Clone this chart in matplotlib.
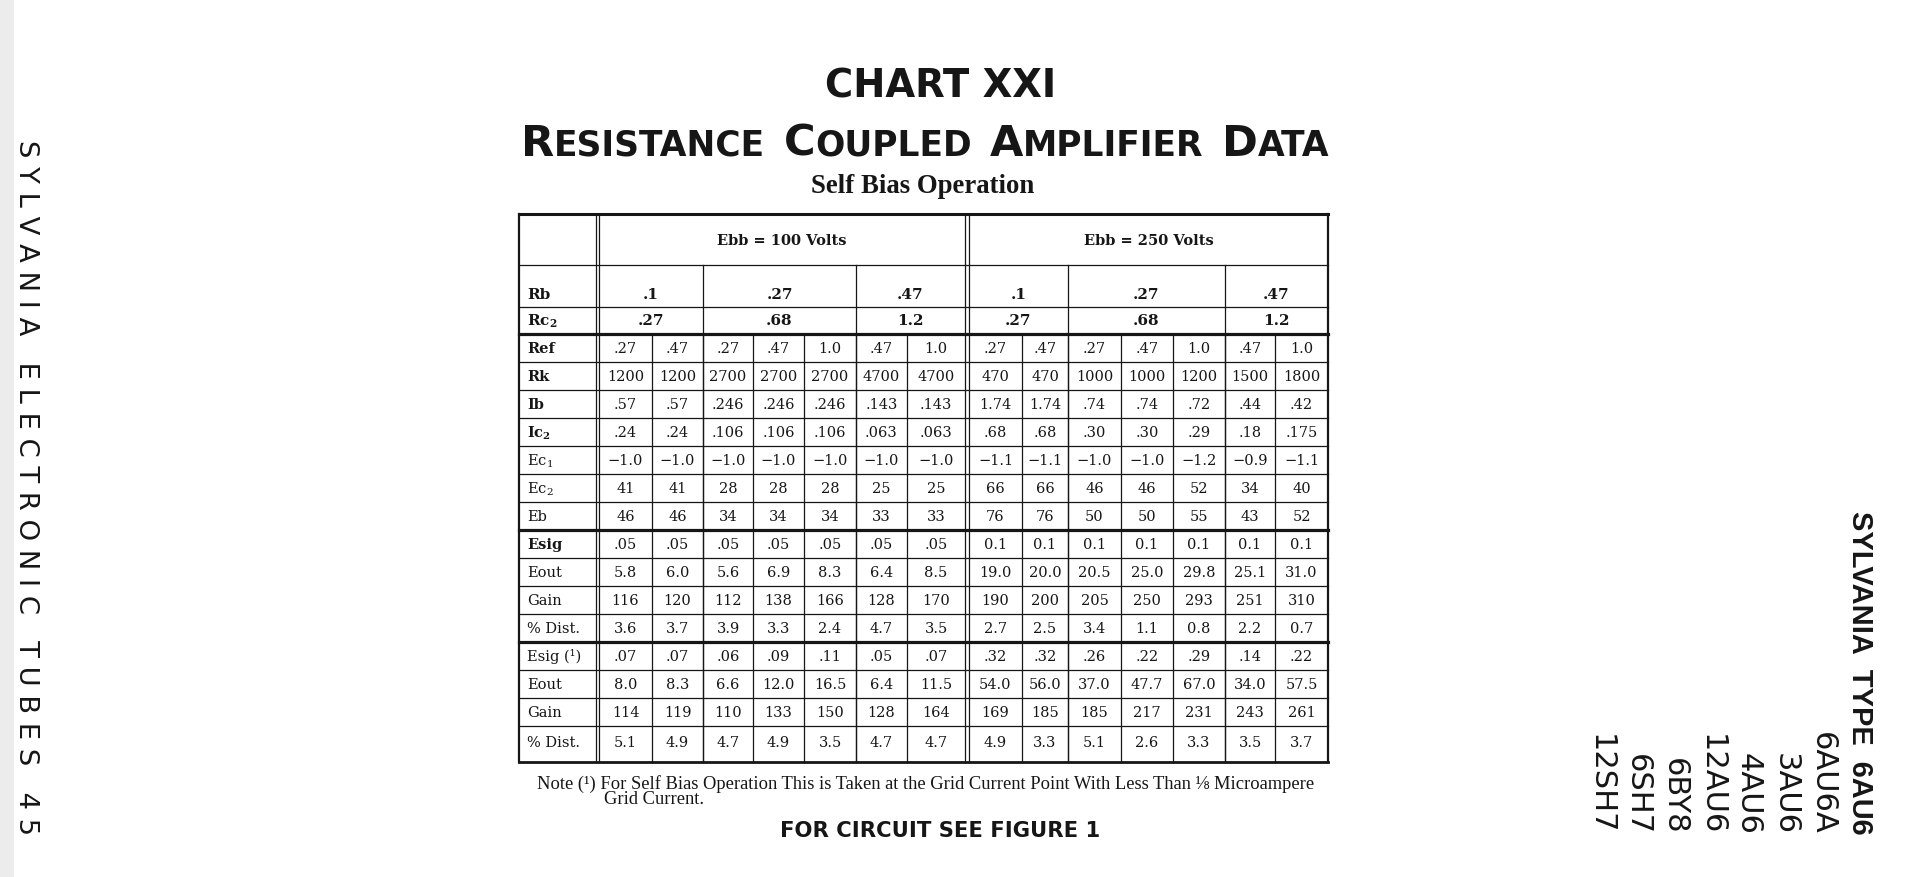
import matplotlib
matplotlib.use('Agg')
import matplotlib.pyplot as plt
from matplotlib import font_manager

W, H = 1913, 878

# ---- table contents ----
ebb_titles = ['Ebb = 100 Volts', 'Ebb = 250 Volts']
rb_values = ['.1', '.27', '.47']
rc2_values = ['.27', '.68', '1.2']
group_spans = [2, 3, 2]

row_labels = ['Ref', 'Rk', 'Ib', 'Ic$_2$', 'Ec$_1$', 'Ec$_2$', 'Eb',
              'Esig', 'Eout', 'Gain', '% Dist.',
              'Esig (\u00b9)', 'Eout', 'Gain', '% Dist.']
bold_labels = ['Ref', 'Rk', 'Ib', 'Ic$_2$', 'Esig']

ebb100_values = [
    ['.27', '.47', '.27', '.47', '1.0', '.47', '1.0'],
    ['1200', '1200', '2700', '2700', '2700', '4700', '4700'],
    ['.57', '.57', '.246', '.246', '.246', '.143', '.143'],
    ['.24', '.24', '.106', '.106', '.106', '.063', '.063'],
    ['\u22121.0'] * 7,
    ['41', '41', '28', '28', '28', '25', '25'],
    ['46', '46', '34', '34', '34', '33', '33'],
    ['.05'] * 7,
    ['5.8', '6.0', '5.6', '6.9', '8.3', '6.4', '8.5'],
    ['116', '120', '112', '138', '166', '128', '170'],
    ['3.6', '3.7', '3.9', '3.3', '2.4', '4.7', '3.5'],
    ['.07', '.07', '.06', '.09', '.11', '.05', '.07'],
    ['8.0', '8.3', '6.6', '12.0', '16.5', '6.4', '11.5'],
    ['114', '119', '110', '133', '150', '128', '164'],
    ['5.1', '4.9', '4.7', '4.9', '3.5', '4.7', '4.7'],
]

ebb250_values = [
    ['.27', '.47', '.27', '.47', '1.0', '.47', '1.0'],
    ['470', '470', '1000', '1000', '1200', '1500', '1800'],
    ['1.74', '1.74', '.74', '.74', '.72', '.44', '.42'],
    ['.68', '.68', '.30', '.30', '.29', '.18', '.175'],
    ['\u22121.1', '\u22121.1', '\u22121.0', '\u22121.0', '\u22121.2', '\u22120.9', '\u22121.1'],
    ['66', '66', '46', '46', '52', '34', '40'],
    ['76', '76', '50', '50', '55', '43', '52'],
    ['0.1'] * 7,
    ['19.0', '20.0', '20.5', '25.0', '29.8', '25.1', '31.0'],
    ['190', '200', '205', '250', '293', '251', '310'],
    ['2.7', '2.5', '3.4', '1.1', '0.8', '2.2', '0.7'],
    ['.32', '.32', '.26', '.22', '.29', '.14', '.22'],
    ['54.0', '56.0', '37.0', '47.7', '67.0', '34.0', '57.5'],
    ['169', '185', '185', '217', '231', '243', '261'],
    ['4.9', '3.3', '5.1', '2.6', '3.3', '3.5', '3.7'],
]

tube_types = ['6AU6A', '3AU6', '4AU6', '12AU6', '6BY8', '6SH7', '12SH7']

# ---- page layout (pixels) ----
label_edges = [519, 596]
group_edges = [[599, 652, 703, 753, 804, 856, 907, 965],
               [969, 1022, 1068, 1121, 1173, 1225, 1275, 1328]]
table_top, ebb_bottom, rb_bottom, rc_bottom = 215, 266, 308, 335
row_h, last_row_h = 28, 36
thick_after = [6, 10]          # thick rule below Eb and first % Dist.

plt.rcParams['mathtext.fontset'] = 'dejavuserif'
serif = 'DejaVu Serif'
ink = '#161616'

fig = plt.figure(figsize=(W / 100, H / 100), dpi=100)
ax = fig.add_axes([0, 0, 1, 1])
ax.set_xlim(0, W)
ax.set_ylim(H, 0)
ax.axis('off')
renderer = fig.canvas.get_renderer()

# faint scanner shading at the left edge
ax.axvspan(0, 14, color='#ececec', lw=0)


def fit(t, target, along='width'):
    bb = t.get_window_extent(renderer)
    size = bb.width if along == 'width' else bb.height
    t.set_fontsize(t.get_fontsize() * target / size)


# ---- headings ----
t = ax.text(941, 98, 'CHART XXI', ha='center', va='baseline',
            fontsize=27, fontweight='bold', family='DejaVu Sans', color=ink)
fit(t, 232)

title_words = ['RESISTANCE', 'COUPLED', 'AMPLIFIER', 'DATA']


def small_caps(words, x0, y0, width, big, ratio):
    pieces = []
    for w in words:
        pieces.append(ax.text(0, y0, w[0], fontsize=big, fontweight='bold',
                              family='DejaVu Sans', va='baseline', color=ink))
        pieces.append(ax.text(0, y0, w[1:], fontsize=big * ratio, fontweight='bold',
                              family='DejaVu Sans', va='baseline', color=ink))
    for _ in range(2):
        gap = 0.42 * pieces[0].get_fontsize() * 100 / 72
        widths = [p.get_window_extent(renderer).width for p in pieces]
        total = sum(widths) + gap * (len(words) - 1)
        for p in pieces:
            p.set_fontsize(p.get_fontsize() * width / total)
    gap = 0.42 * pieces[0].get_fontsize() * 100 / 72
    x = x0
    for i, p in enumerate(pieces):
        p.set_x(x)
        x += p.get_window_extent(renderer).width
        if i % 2 == 1:
            x += gap


small_caps(title_words, 521, 156, 809, 31, 0.8)

t = ax.text(923, 193, 'Self Bias Operation', ha='center', va='baseline',
            fontsize=16, fontweight='bold', family='Liberation Serif', color=ink)
fit(t, 224)

# ---- table rules ----
x_left, x_right = label_edges[0], group_edges[1][-1]
row_tops = [rc_bottom + i * row_h for i in range(len(row_labels))]
table_bottom = row_tops[-1] + last_row_h
thin, thick = 0.9, 2.3

ax.plot([x_left, x_right], [table_top, table_top], color=ink, lw=2.2)
ax.plot([x_left, x_right], [table_bottom, table_bottom], color=ink, lw=2.0)
ax.plot([x_left, x_left], [table_top, table_bottom], color=ink, lw=1.6)
ax.plot([x_right, x_right], [table_top, table_bottom], color=ink, lw=1.6)
for y in [ebb_bottom, rb_bottom]:
    ax.plot([x_left, x_right], [y, y], color=ink, lw=thin)
ax.plot([x_left, x_right], [rc_bottom, rc_bottom], color=ink, lw=thick)
for i, top in enumerate(row_tops[1:]):
    lw = thick if i in thick_after else thin
    ax.plot([x_left, x_right], [top, top], color=ink, lw=lw)

# double rules after the label column and between the two groups
for x in [label_edges[1], group_edges[0][0], group_edges[0][-1], group_edges[1][0]]:
    ax.plot([x, x], [table_top, table_bottom], color=ink, lw=0.9)

for edges in group_edges:
    # sub-group rules through Rb / Rc2 rows
    k = 0
    for span in group_spans[:-1]:
        k += span
        ax.plot([edges[k], edges[k]], [ebb_bottom, table_bottom], color=ink, lw=thin)
    for k in range(1, len(edges) - 1):
        ax.plot([edges[k], edges[k]], [rc_bottom, table_bottom], color=ink, lw=thin)

# ---- table text ----
for edges, title in zip(group_edges, ebb_titles):
    ax.text((edges[0] + edges[-1]) / 2, (table_top + ebb_bottom) / 2 + 1, title,
            ha='center', va='center', fontsize=10.5, fontweight='bold',
            family=serif, color=ink)
    k = 0
    for span, rb, rc in zip(group_spans, rb_values, rc2_values):
        cx = (edges[k] + edges[k + span]) / 2
        ax.text(cx, rb_bottom - 13, rb, ha='center', va='center', fontsize=11,
                fontweight='bold', family=serif, color=ink)
        ax.text(cx, (rb_bottom + rc_bottom) / 2, rc, ha='center', va='center',
                fontsize=11, fontweight='bold', family=serif, color=ink)
        k += span

ax.text(label_edges[0] + 8, rb_bottom - 13, 'Rb', ha='left', va='center',
        fontsize=11, fontweight='bold', family=serif, color=ink)
ax.text(label_edges[0] + 8, (rb_bottom + rc_bottom) / 2, r'Rc$_\mathbf{2}$',
        ha='left', va='center', fontsize=11, fontweight='bold', family=serif, color=ink)

for i, lab in enumerate(row_labels):
    h = last_row_h if i == len(row_labels) - 1 else row_h
    cy = row_tops[i] + (row_h / 2 if i < len(row_labels) - 1 else row_h / 2 + 2)
    wt = 'bold' if lab in bold_labels else 'normal'
    if wt == 'bold' and '$' in lab:
        lab = lab.replace('$_', r'$_\mathbf{').replace('$', '}$').replace('}$_', '$_', 1)
    ax.text(label_edges[0] + 8, cy, lab, ha='left', va='center', fontsize=10.5,
            fontweight=wt, family=serif, color=ink)
    for edges, vals in zip(group_edges, [ebb100_values, ebb250_values]):
        for j, v in enumerate(vals[i]):
            ax.text((edges[j] + edges[j + 1]) / 2, cy, v, ha='center', va='center',
                    fontsize=10.5, family=serif, color=ink)

# ---- notes below the table ----
t = ax.text(537, 784, 'Note (\u00b9) For Self Bias Operation This is Taken at the Grid '
            'Current Point With Less Than \u215b Microampere',
            ha='left', va='center', fontsize=11, family=['Liberation Serif', 'DejaVu Serif'],
            color=ink)
fit(t, 778)
ax.text(604, 800, 'Grid Current.', ha='left', va='center', fontsize=t.get_fontsize(),
        family='Liberation Serif', color=ink)

t = ax.text(940, 831, 'FOR CIRCUIT SEE FIGURE 1', ha='center', va='center',
            fontsize=13, fontweight='bold', family='DejaVu Sans', color=ink)
fit(t, 318)

# ---- vertical margin texts ----
side = '   '.join(' '.join(w) for w in ['SYLVANIA', 'ELECTRONIC', 'TUBES', '45'])
t = ax.text(26, 140, side, rotation=270, rotation_mode='anchor', ha='left',
            va='center', fontsize=17, family='DejaVu Sans', color=ink)
fit(t, 696, along='height')

bottom = 835
t = ax.text(1860, bottom, 'SYLVANIA  TYPE  6AU6', rotation=270, rotation_mode='anchor',
            ha='right', va='center', fontsize=21, fontweight='bold',
            family='Liberation Sans', color=ink)
fit(t, 323, along='height')
for i, name in enumerate(tube_types):
    ax.text(1822 - i * 37, bottom, name, rotation=270, rotation_mode='anchor',
            ha='right', va='center', fontsize=22, family='DejaVu Sans', color=ink)

fig.savefig('out.png', dpi=100, facecolor='white')
